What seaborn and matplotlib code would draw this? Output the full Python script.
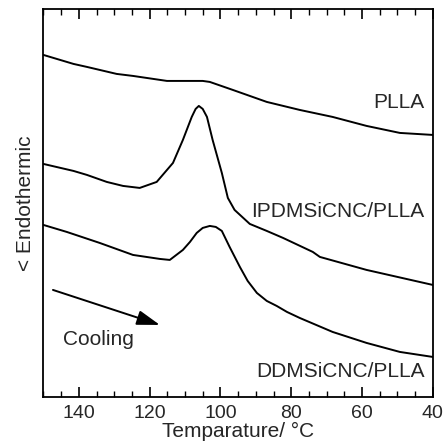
import matplotlib
matplotlib.use('Agg')
import matplotlib.pyplot as plt
from matplotlib.ticker import MultipleLocator
import pandas as pd
import seaborn as sns

# curves (arbitrary heat-flow units)
plla_T = [150, 141.5, 137.7, 129.3, 124.7, 115.1, 105.0, 103.0, 96.5, 86.9, 77.6, 68.3, 58.7, 49.3, 40]
plla_v = [342, 333, 330, 323, 321, 316, 316, 315, 307, 295, 287, 280, 271, 264, 262]

ipdms_T = [150, 141.5, 137.7, 132.1, 127.5, 122.8, 118.0, 113.4, 110.6, 108.1, 107.0, 106.1, 105.0, 103.8,
           102.2, 99.6, 97.9, 96.0, 91.7, 86.9, 82.3, 73.9, 71.9, 58.7, 40]
ipdms_v = [233, 226, 222, 215, 211, 209, 215, 234, 257, 280, 288, 291, 288, 280,
           257, 224, 199, 187, 173, 166, 159, 145, 140, 127, 112]

ddms_T = [150, 143.4, 134.1, 124.7, 117.1, 114.3, 110.6, 108.6, 106.7, 105.0, 103.0, 101.3,
          99.6, 97.4, 94.5, 92.3, 89.7, 86.9, 84.1, 81.2, 77.6, 68.3, 58.7, 49.3, 40]
ddms_v = [172, 165, 154, 142, 138, 137, 147, 155, 164, 169, 171, 170,
          166, 150, 130, 116, 104, 96, 91, 85, 79, 65, 54, 45, 40]

names = ['PLLA', 'IPDMSiCNC/PLLA', 'DDMSiCNC/PLLA']

df = pd.concat([
    pd.DataFrame({'T': plla_T, 'v': plla_v, 'sample': names[0]}),
    pd.DataFrame({'T': ipdms_T, 'v': ipdms_v, 'sample': names[1]}),
    pd.DataFrame({'T': ddms_T, 'v': ddms_v, 'sample': names[2]}),
])

sns.set_style('ticks')
plt.rcParams['font.family'] = ['Liberation Sans', 'DejaVu Sans']

fig = plt.figure(figsize=(4.43, 4.46), dpi=100)
ax = fig.add_axes([0.098, 0.110, 0.879, 0.870])

sns.lineplot(data=df, x='T', y='v', units='sample', estimator=None, sort=False,
             color='black', linewidth=1.4, legend=False, ax=ax)

ax.set_xlim(150, 40)
ax.set_ylim(0, 388)
ax.xaxis.set_major_locator(MultipleLocator(20))
ax.xaxis.set_minor_locator(MultipleLocator(5))
ax.set_yticks([])
ax.tick_params(axis='x', which='both', direction='in', top=True, bottom=True,
               labelsize=14, color='black', pad=6)
ax.tick_params(axis='x', which='major', length=7, width=1.2)
ax.tick_params(axis='x', which='minor', length=4, width=1.0)
for sp in ax.spines.values():
    sp.set_linewidth(1.3)
    sp.set_color('black')

ax.set_xlabel('Temparature/ \u00b0C', fontsize=15, labelpad=0)
ax.set_ylabel('< Endothermic', fontsize=15, labelpad=6)

# curve labels
ax.text(42.3, 294, 'PLLA', fontsize=15, ha='right', va='center')
ax.text(42.3, 185, 'IPDMSiCNC/PLLA', fontsize=15, ha='right', va='center')
ax.text(42.3, 25, 'DDMSiCNC/PLLA', fontsize=15, ha='right', va='center')

# cooling arrow
ax.annotate('', xy=(117.1, 72), xytext=(147.3, 107),
            arrowprops=dict(arrowstyle='-|>,head_length=1.4,head_width=0.45',
                            color='black', lw=1.4, shrinkA=0, shrinkB=0))
ax.text(144.5, 57, 'Cooling', fontsize=15, ha='left', va='center')

fig.savefig('out.png', dpi=100)
